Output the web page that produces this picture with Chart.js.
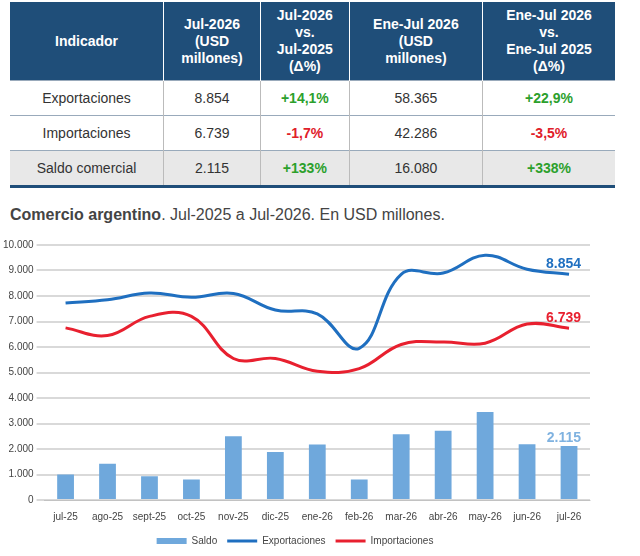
<!DOCTYPE html>
<html><head><meta charset="utf-8">
<script src="https://cdn.jsdelivr.net/npm/chart.js@4"></script>
<style>
body{margin:0;width:640px;height:556px;background:#fff;font-family:Arial,"Liberation Sans",sans-serif;overflow:hidden}
table{position:absolute;left:10px;top:2px;width:605px;border-collapse:collapse;font-size:14px}
th{background:#1f4e79;color:#fff;font-weight:bold;height:76px;border-right:1px solid #fff;line-height:17px}
td{height:32px;text-align:center;color:#333;border-top:1px solid #9ab;border-right:1px solid #bbb}
tr.last td{background:#e8e8e8;border-bottom:3px solid #1f4e79}
.g{color:#2ca02c;font-weight:bold}.r{color:#e0202a;font-weight:bold}
#title{position:absolute;left:10px;top:206px;font-size:16px;color:#444}
#wrap{position:absolute;left:0;top:236px;width:640px;height:320px}
</style></head><body>
<table>
<tr><th>Indicador</th><th>Jul-2026<br>(USD<br>millones)</th><th>Jul-2026<br>vs.<br>Jul-2025<br>(Δ%)</th><th>Ene-Jul 2026<br>(USD<br>millones)</th><th style="border-right:none">Ene-Jul 2026<br>vs.<br>Ene-Jul 2025<br>(Δ%)</th></tr>
<tr><td>Exportaciones</td><td>8.854</td><td class="g">+14,1%</td><td>58.365</td><td class="g" style="border-right:none">+22,9%</td></tr>
<tr><td>Importaciones</td><td>6.739</td><td class="r">-1,7%</td><td>42.286</td><td class="r" style="border-right:none">-3,5%</td></tr>
<tr class="last"><td>Saldo comercial</td><td>2.115</td><td class="g">+133%</td><td>16.080</td><td class="g" style="border-right:none">+338%</td></tr>
</table>
<div id="title"><b>Comercio argentino</b>. Jul-2025 a Jul-2026. En USD millones.</div>
<div id="wrap"><canvas id="c"></canvas></div>
<script>
const meses = ['jul-25','ago-25','sept-25','oct-25','nov-25','dic-25','ene-26','feb-26','mar-26','abr-26','may-26','jun-26','jul-26'];
const exportaciones = [7730,7850,8120,7950,8100,7450,7300,5950,8850,8900,9600,9050,8854];
const importaciones = [6750,6450,7200,7200,5550,5550,5050,5150,6100,6200,6150,6900,6739];
const saldo = [1000,1420,930,800,2500,1880,2180,800,2580,2720,3450,2190,2115];

// etiqueta del último valor de cada serie
const ultimo = {
  id:'ultimo',
  afterDatasetsDraw(chart){
    const ctx = chart.ctx;
    ctx.save();
    ctx.font = 'bold 14px Arial';
    ctx.textAlign = 'right';
    const cols = ['#7fb2e0','#1f6fc0','#e8202f'];
    chart.data.datasets.forEach((ds,i) => {
      const m = chart.getDatasetMeta(i).data[ds.data.length-1];
      ctx.fillStyle = cols[i];
      const n = ds.data[ds.data.length-1].toLocaleString('de-DE');
      ctx.fillText(n, m.x+12, m.y - (i==0 ? 8 : 10));
    });
    ctx.restore();
  }
};

new Chart(document.getElementById('c'), {
  data: { labels: meses, datasets: [
    {type:'bar', label:'Saldo', data:saldo, backgroundColor:'#6fa8dc', barPercentage:0.4, categoryPercentage:1, order:3, pointStyle:'rect'},
    {type:'line', label:'Exportaciones', data:exportaciones, borderColor:'#1f6fc0', backgroundColor:'#1f6fc0', borderWidth:3, pointRadius:0, tension:0.4, order:1, pointStyle:'line'},
    {type:'line', label:'Importaciones', data:importaciones, borderColor:'#e8202f', backgroundColor:'#e8202f', borderWidth:3, pointRadius:0, tension:0.4, order:2, pointStyle:'line'}
  ]},
  options: {
    responsive:true, maintainAspectRatio:false, animation:false,
    layout:{padding:{right:50,top:4}},
    plugins:{
      legend:{position:'bottom', labels:{usePointStyle:true, pointStyleWidth:30, boxHeight:6, font:{size:10}, color:'#444',
        sort:(a,b) => a.datasetIndex - b.datasetIndex}},
      tooltip:{enabled:false}
    },
    scales:{
      x:{grid:{display:false}, ticks:{color:'#444', font:{size:10}}},
      y:{min:0, max:10000, ticks:{stepSize:1000, color:'#444', font:{size:10}, callback:v => v.toLocaleString('de-DE')}, grid:{color:'#d9d9d9', lineWidth:2}, border:{display:false}}
    }
  },
  plugins:[ultimo]
});
</script>
</body></html>
